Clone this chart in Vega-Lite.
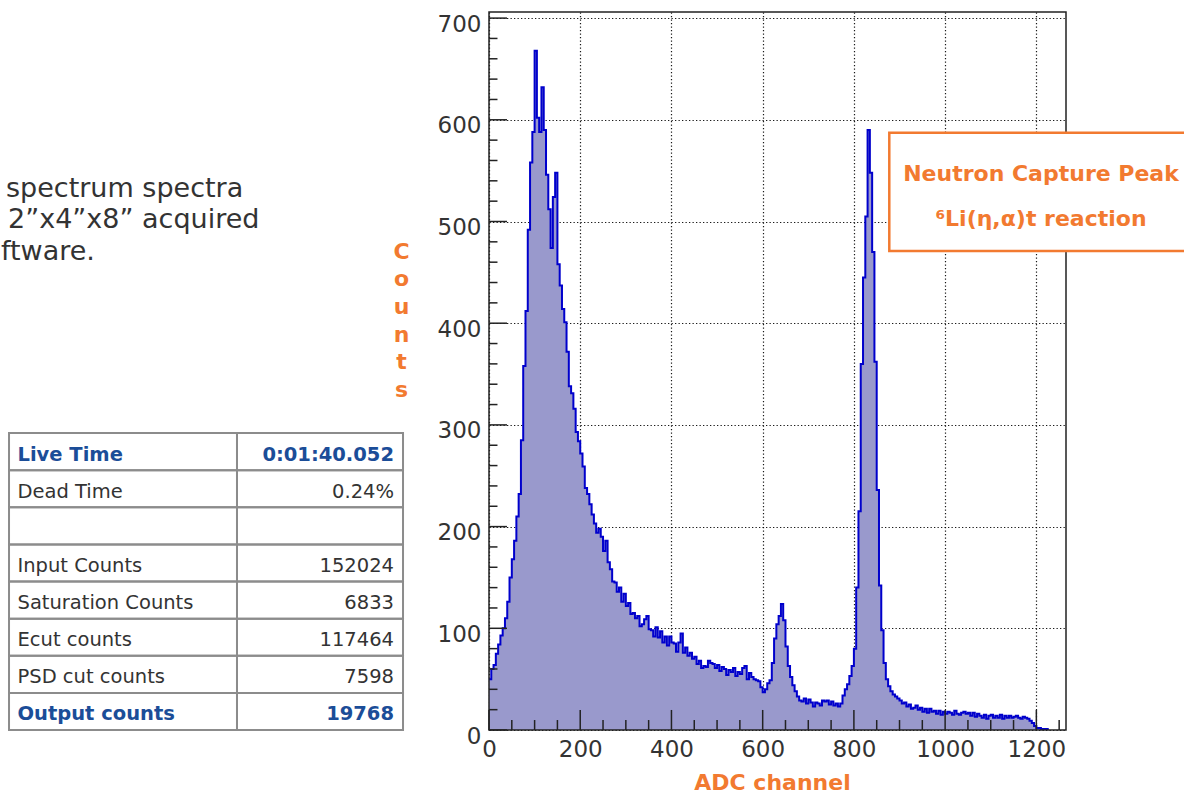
{
  "$schema": "https://vega.github.io/schema/vega-lite/v6.json",
  "width": 577,
  "height": 718,
  "autosize": {"type": "none"},
  "padding": {"left": 489, "top": 12, "right": 118, "bottom": 63},
  "background": "white",
  "config": {"view": {"stroke": null}, "font": "DejaVu Sans"},
  "datasets": {
    "hist": [
      {"ch":0,"n":50},{"ch":5,"n":60},{"ch":10,"n":64},{"ch":15,"n":75},{"ch":20,"n":84},{"ch":25,"n":93},{"ch":30,"n":100},{"ch":35,"n":110},{"ch":40,"n":126},{"ch":45,"n":150},
      {"ch":50,"n":168},{"ch":55,"n":186},{"ch":60,"n":210},{"ch":65,"n":232},{"ch":70,"n":285},{"ch":75,"n":358},{"ch":80,"n":412},{"ch":85,"n":492},{"ch":90,"n":558},{"ch":95,"n":588},
      {"ch":100,"n":668},{"ch":105,"n":602},{"ch":110,"n":588},{"ch":115,"n":632},{"ch":120,"n":590},{"ch":125,"n":546},{"ch":130,"n":512},{"ch":135,"n":474},{"ch":140,"n":524},{"ch":145,"n":548},
      {"ch":150,"n":458},{"ch":155,"n":437},{"ch":160,"n":414},{"ch":165,"n":401},{"ch":170,"n":372},{"ch":175,"n":338},{"ch":180,"n":331},{"ch":185,"n":316},{"ch":190,"n":293},{"ch":195,"n":284},
      {"ch":200,"n":272},{"ch":205,"n":259},{"ch":210,"n":238},{"ch":215,"n":232},{"ch":220,"n":222},{"ch":225,"n":212},{"ch":230,"n":203},{"ch":235,"n":194},{"ch":240,"n":198},{"ch":245,"n":190},
      {"ch":250,"n":176},{"ch":255,"n":186},{"ch":260,"n":165},{"ch":265,"n":158},{"ch":270,"n":146},{"ch":275,"n":145},{"ch":280,"n":136},{"ch":285,"n":140},{"ch":290,"n":126},{"ch":295,"n":134},
      {"ch":300,"n":122},{"ch":305,"n":125},{"ch":310,"n":114},{"ch":315,"n":115},{"ch":320,"n":110},{"ch":325,"n":112},{"ch":330,"n":102},{"ch":335,"n":104},{"ch":340,"n":109},{"ch":345,"n":112},
      {"ch":350,"n":99},{"ch":355,"n":98},{"ch":360,"n":92},{"ch":365,"n":101},{"ch":370,"n":91},{"ch":375,"n":97},{"ch":380,"n":86},{"ch":385,"n":92},{"ch":390,"n":83},{"ch":395,"n":92},
      {"ch":400,"n":86},{"ch":405,"n":85},{"ch":410,"n":77},{"ch":415,"n":86},{"ch":420,"n":95},{"ch":425,"n":76},{"ch":430,"n":81},{"ch":435,"n":73},{"ch":440,"n":76},{"ch":445,"n":70},
      {"ch":450,"n":72},{"ch":455,"n":65},{"ch":460,"n":68},{"ch":465,"n":61},{"ch":470,"n":63},{"ch":475,"n":62},{"ch":480,"n":68},{"ch":485,"n":66},{"ch":490,"n":65},{"ch":495,"n":61},
      {"ch":500,"n":64},{"ch":505,"n":58},{"ch":510,"n":62},{"ch":515,"n":60},{"ch":520,"n":54},{"ch":525,"n":59},{"ch":530,"n":57},{"ch":535,"n":61},{"ch":540,"n":53},{"ch":545,"n":57},
      {"ch":550,"n":55},{"ch":555,"n":61},{"ch":560,"n":63},{"ch":565,"n":50},{"ch":570,"n":56},{"ch":575,"n":52},{"ch":580,"n":50},{"ch":585,"n":49},{"ch":590,"n":48},{"ch":595,"n":42},
      {"ch":600,"n":37},{"ch":605,"n":40},{"ch":610,"n":46},{"ch":615,"n":49},{"ch":620,"n":66},{"ch":625,"n":90},{"ch":630,"n":104},{"ch":635,"n":112},{"ch":640,"n":124},{"ch":645,"n":108},
      {"ch":650,"n":82},{"ch":655,"n":63},{"ch":660,"n":52},{"ch":665,"n":44},{"ch":670,"n":38},{"ch":675,"n":33},{"ch":680,"n":29},{"ch":685,"n":28},{"ch":690,"n":31},{"ch":695,"n":26},
      {"ch":700,"n":30},{"ch":705,"n":27},{"ch":710,"n":23},{"ch":715,"n":27},{"ch":720,"n":26},{"ch":725,"n":24},{"ch":730,"n":29},{"ch":735,"n":28},{"ch":740,"n":29},{"ch":745,"n":25},
      {"ch":750,"n":28},{"ch":755,"n":24},{"ch":760,"n":26},{"ch":765,"n":23},{"ch":770,"n":26},{"ch":775,"n":34},{"ch":780,"n":40},{"ch":785,"n":45},{"ch":790,"n":53},{"ch":795,"n":63},
      {"ch":800,"n":80},{"ch":805,"n":140},{"ch":810,"n":215},{"ch":815,"n":360},{"ch":820,"n":445},{"ch":825,"n":505},{"ch":830,"n":590},{"ch":835,"n":548},{"ch":840,"n":470},{"ch":845,"n":362},
      {"ch":850,"n":236},{"ch":855,"n":142},{"ch":860,"n":98},{"ch":865,"n":66},{"ch":870,"n":50},{"ch":875,"n":43},{"ch":880,"n":38},{"ch":885,"n":35},{"ch":890,"n":33},{"ch":895,"n":31},
      {"ch":900,"n":29},{"ch":905,"n":26},{"ch":910,"n":27},{"ch":915,"n":23},{"ch":920,"n":25},{"ch":925,"n":21},{"ch":930,"n":22},{"ch":935,"n":24},{"ch":940,"n":20},{"ch":945,"n":22},
      {"ch":950,"n":18},{"ch":955,"n":21},{"ch":960,"n":17},{"ch":965,"n":21},{"ch":970,"n":18},{"ch":975,"n":19},{"ch":980,"n":16},{"ch":985,"n":19},{"ch":990,"n":15},{"ch":995,"n":18},
      {"ch":1000,"n":16},{"ch":1005,"n":18},{"ch":1010,"n":17},{"ch":1015,"n":15},{"ch":1020,"n":19},{"ch":1025,"n":16},{"ch":1030,"n":15},{"ch":1035,"n":17},{"ch":1040,"n":18},{"ch":1045,"n":16},
      {"ch":1050,"n":17},{"ch":1055,"n":14},{"ch":1060,"n":17},{"ch":1065,"n":13},{"ch":1070,"n":16},{"ch":1075,"n":14},{"ch":1080,"n":12},{"ch":1085,"n":15},{"ch":1090,"n":11},{"ch":1095,"n":14},
      {"ch":1100,"n":15},{"ch":1105,"n":12},{"ch":1110,"n":14},{"ch":1115,"n":12},{"ch":1120,"n":15},{"ch":1125,"n":11},{"ch":1130,"n":14},{"ch":1135,"n":12},{"ch":1140,"n":14},{"ch":1145,"n":12},
      {"ch":1150,"n":13},{"ch":1155,"n":14},{"ch":1160,"n":12},{"ch":1165,"n":11},{"ch":1170,"n":13},{"ch":1175,"n":12},{"ch":1180,"n":11},{"ch":1185,"n":9},{"ch":1190,"n":7},{"ch":1195,"n":4},
      {"ch":1200,"n":2},{"ch":1205,"n":2},{"ch":1210,"n":1},{"ch":1215,"n":1},{"ch":1220,"n":1},{"ch":1225,"n":0}
    ],
    "xt": [
      {"v":0},{"v":50},{"v":100},{"v":150},{"v":200},{"v":250},{"v":300},{"v":350},{"v":400},{"v":450},{"v":500},{"v":550},{"v":600},
      {"v":650},{"v":700},{"v":750},{"v":800},{"v":850},{"v":900},{"v":950},{"v":1000},{"v":1050},{"v":1100},{"v":1150},{"v":1200},{"v":1250}
    ],
    "yt": [
      {"v":0},{"v":20},{"v":40},{"v":60},{"v":80},{"v":100},{"v":120},{"v":140},{"v":160},{"v":180},{"v":200},{"v":220},
      {"v":240},{"v":260},{"v":280},{"v":300},{"v":320},{"v":340},{"v":360},{"v":380},{"v":400},{"v":420},{"v":440},{"v":460},
      {"v":480},{"v":500},{"v":520},{"v":540},{"v":560},{"v":580},{"v":600},{"v":620},{"v":640},{"v":660},{"v":680},{"v":700}
    ],
    "table": [
      {"r":1,"label":"Live Time","value":"0:01:40.052"},
      {"r":2,"label":"Dead Time","value":"0.24%"},
      {"r":3,"label":"","value":""},
      {"r":4,"label":"Input Counts","value":"152024"},
      {"r":5,"label":"Saturation Counts","value":"6833"},
      {"r":6,"label":"Ecut counts","value":"117464"},
      {"r":7,"label":"PSD cut counts","value":"7598"},
      {"r":8,"label":"Output counts","value":"19768"}
    ]
  },
  "layer": [
    {
      "layer": [
        {
          "data": {"name": "hist"},
          "mark": {"type": "area", "interpolate": "step-after", "color": "#9999cc", "opacity": 1},
          "encoding": {
            "x": {"field": "ch", "type": "quantitative",
              "scale": {"domain": [0, 1265], "nice": false, "zero": false},
              "axis": {
                "values": [0, 200, 400, 600, 800, 1000, 1200], "format": "d",
                "domain": false, "ticks": false, "grid": true,
                "gridColor": "#000", "gridDash": [1.3, 2.2], "gridWidth": 1.2, "gridOpacity": 0.9,
                "labelFont": "DejaVu Sans", "labelFontSize": 23, "labelColor": "#333", "labelPadding": 8,
                "labelFlush": false, "labelOverlap": false,
                "title": "ADC channel", "titleFont": "DejaVu Sans", "titleFontSize": 22, "titleFontWeight": "bold",
                "titleColor": "#f27a30", "titleX": 283, "titleY": 59, "titleBaseline": "alphabetic", "titleAlign": "center"
              }
            },
            "y": {"field": "n", "type": "quantitative",
              "scale": {"domain": [0, 706], "nice": false},
              "axis": {
                "values": [0, 100, 200, 300, 400, 500, 600, 700], "format": "d",
                "domain": false, "ticks": false, "grid": true,
                "gridColor": "#000", "gridDash": [1.3, 2.2], "gridWidth": 1.2, "gridOpacity": 0.9,
                "labelFont": "DejaVu Sans", "labelFontSize": 23, "labelColor": "#333", "labelPadding": 8,
                "labelBaseline": "middle", "labelOffset": 6, "labelFlush": false, "labelOverlap": false,
                "title": ["C", "o", "u", "n", "t", "s"], "titleFont": "DejaVu Sans", "titleFontSize": 22, "titleFontWeight": "bold",
                "titleColor": "#f27a30", "titleAngle": 0, "titleX": -88, "titleY": 229, "titleAlign": "center",
                "titleBaseline": "top", "titleLineHeight": 27.7
              }
            }
          }
        },
        {
          "data": {"name": "hist"},
          "mark": {"type": "line", "interpolate": "step-after", "color": "#0000cc", "strokeWidth": 2},
          "encoding": {
            "x": {"field": "ch", "type": "quantitative"},
            "y": {"field": "n", "type": "quantitative"}
          }
        },
        {
          "data": {"values": [{}]},
          "mark": {"type": "rect", "filled": false, "color": "#222", "strokeWidth": 1.5},
          "encoding": {
            "x": {"datum": 0, "type": "quantitative"},
            "x2": {"datum": 1265},
            "y": {"datum": 0, "type": "quantitative"},
            "y2": {"datum": 706}
          }
        },
        {
          "data": {"name": "xt"},
          "transform": [{"filter": "datum.v % 200 == 0"}],
          "mark": {"type": "rule", "color": "#222", "strokeWidth": 1.5},
          "encoding": {
            "x": {"field": "v", "type": "quantitative"},
            "y": {"datum": 0, "type": "quantitative"},
            "y2": {"datum": 19.7}
          }
        },
        {
          "data": {"name": "xt"},
          "transform": [{"filter": "datum.v % 200 != 0"}],
          "mark": {"type": "rule", "color": "#222", "strokeWidth": 1.5},
          "encoding": {
            "x": {"field": "v", "type": "quantitative"},
            "y": {"datum": 0, "type": "quantitative"},
            "y2": {"datum": 9.8}
          }
        },
        {
          "data": {"name": "yt"},
          "transform": [{"filter": "datum.v % 100 == 0"}],
          "mark": {"type": "rule", "color": "#222", "strokeWidth": 1.5},
          "encoding": {
            "y": {"field": "v", "type": "quantitative"},
            "x": {"datum": 0, "type": "quantitative"},
            "x2": {"datum": 39.5}
          }
        },
        {
          "data": {"name": "yt"},
          "transform": [{"filter": "datum.v % 100 != 0"}],
          "mark": {"type": "rule", "color": "#222", "strokeWidth": 1.5},
          "encoding": {
            "y": {"field": "v", "type": "quantitative"},
            "x": {"datum": 0, "type": "quantitative"},
            "x2": {"datum": 18.6}
          }
        },
        {
          "data": {"values": [{}]},
          "mark": {"type": "rect", "fill": "white", "stroke": "#f27a30", "strokeWidth": 2.5},
          "encoding": {
            "x": {"datum": 877.6, "type": "quantitative"},
            "x2": {"datum": 1547},
            "y": {"datum": 587.3, "type": "quantitative"},
            "y2": {"datum": 471}
          }
        },
        {
          "data": {"values": [{}]},
          "mark": {"type": "text", "font": "DejaVu Sans", "fontSize": 22, "fontWeight": "bold", "color": "#f27a30", "align": "center", "baseline": "alphabetic"},
          "encoding": {
            "x": {"datum": 1210.2, "type": "quantitative"},
            "y": {"datum": 540.1, "type": "quantitative"},
            "text": {"value": "Neutron Capture Peak"}
          }
        },
        {
          "data": {"values": [{}]},
          "mark": {"type": "text", "font": "DejaVu Sans", "fontSize": 22, "fontWeight": "bold", "color": "#f27a30", "align": "center", "baseline": "alphabetic"},
          "encoding": {
            "x": {"datum": 1210.2, "type": "quantitative"},
            "y": {"datum": 495.6, "type": "quantitative"},
            "text": {"value": "⁶Li(η,α)t reaction"}
          }
        },
        {
          "data": {"values": [{}]},
          "mark": {"type": "text", "font": "DejaVu Sans", "fontSize": 27, "color": "#333", "align": "left", "baseline": "alphabetic"},
          "encoding": {
            "x": {"datum": -1058.9, "type": "quantitative"},
            "y": {"datum": 524.4, "type": "quantitative"},
            "text": {"value": "spectrum spectra"}
          }
        },
        {
          "data": {"values": [{}]},
          "mark": {"type": "text", "font": "DejaVu Sans", "fontSize": 27, "color": "#333", "align": "left", "baseline": "alphabetic"},
          "encoding": {
            "x": {"datum": -1054.5, "type": "quantitative"},
            "y": {"datum": 493.3, "type": "quantitative"},
            "text": {"value": "2”x4”x8” acquired"}
          }
        },
        {
          "data": {"values": [{}]},
          "mark": {"type": "text", "font": "DejaVu Sans", "fontSize": 27, "color": "#333", "align": "left", "baseline": "alphabetic"},
          "encoding": {
            "x": {"datum": -1069.9, "type": "quantitative"},
            "y": {"datum": 462.1, "type": "quantitative"},
            "text": {"value": "ftware."}
          }
        }
      ]
    },
    {
      "data": {"name": "table"},
      "layer": [
        {
          "mark": {"type": "rect", "filled": false, "color": "#8c8c8c", "strokeWidth": 2},
          "encoding": {
            "x": {"datum": -1052.3, "type": "quantitative"},
            "x2": {"datum": -552.5},
            "y": {"field": "r", "type": "ordinal", "axis": null,
              "scale": {"type": "band", "domain": [1, 2, 3, 4, 5, 6, 7, 8], "range": [421, 718], "paddingInner": 0, "paddingOuter": 0}}
          }
        },
        {
          "mark": {"type": "rect", "filled": false, "color": "#8c8c8c", "strokeWidth": 2},
          "encoding": {
            "x": {"datum": -552.5, "type": "quantitative"},
            "x2": {"datum": -188.5},
            "y": {"field": "r", "type": "ordinal", "axis": null,
              "scale": {"type": "band", "domain": [1, 2, 3, 4, 5, 6, 7, 8], "range": [421, 718], "paddingInner": 0, "paddingOuter": 0}}
          }
        },
        {
          "transform": [{"filter": "datum.r != 1 && datum.r != 8"}],
          "mark": {"type": "text", "font": "DejaVu Sans", "fontSize": 19.5, "color": "#333", "align": "left", "baseline": "middle", "dy": 3},
          "encoding": {
            "x": {"datum": -1033.7, "type": "quantitative"},
            "y": {"field": "r", "type": "ordinal", "axis": null,
              "scale": {"type": "band", "domain": [1, 2, 3, 4, 5, 6, 7, 8], "range": [421, 718], "paddingInner": 0, "paddingOuter": 0}},
            "text": {"field": "label"}
          }
        },
        {
          "transform": [{"filter": "datum.r == 1 || datum.r == 8"}],
          "mark": {"type": "text", "font": "DejaVu Sans", "fontSize": 19.5, "fontWeight": "bold", "color": "#1b4d98", "align": "left", "baseline": "middle", "dy": 3},
          "encoding": {
            "x": {"datum": -1033.7, "type": "quantitative"},
            "y": {"field": "r", "type": "ordinal", "axis": null,
              "scale": {"type": "band", "domain": [1, 2, 3, 4, 5, 6, 7, 8], "range": [421, 718], "paddingInner": 0, "paddingOuter": 0}},
            "text": {"field": "label"}
          }
        },
        {
          "transform": [{"filter": "datum.r != 1 && datum.r != 8"}],
          "mark": {"type": "text", "font": "DejaVu Sans", "fontSize": 19.5, "color": "#333", "align": "right", "baseline": "middle", "dy": 3},
          "encoding": {
            "x": {"datum": -208.3, "type": "quantitative"},
            "y": {"field": "r", "type": "ordinal", "axis": null,
              "scale": {"type": "band", "domain": [1, 2, 3, 4, 5, 6, 7, 8], "range": [421, 718], "paddingInner": 0, "paddingOuter": 0}},
            "text": {"field": "value"}
          }
        },
        {
          "transform": [{"filter": "datum.r == 1 || datum.r == 8"}],
          "mark": {"type": "text", "font": "DejaVu Sans", "fontSize": 19.5, "fontWeight": "bold", "color": "#1b4d98", "align": "right", "baseline": "middle", "dy": 3},
          "encoding": {
            "x": {"datum": -208.3, "type": "quantitative"},
            "y": {"field": "r", "type": "ordinal", "axis": null,
              "scale": {"type": "band", "domain": [1, 2, 3, 4, 5, 6, 7, 8], "range": [421, 718], "paddingInner": 0, "paddingOuter": 0}},
            "text": {"field": "value"}
          }
        }
      ]
    }
  ],
  "resolve": {"scale": {"y": "independent"}}
}
